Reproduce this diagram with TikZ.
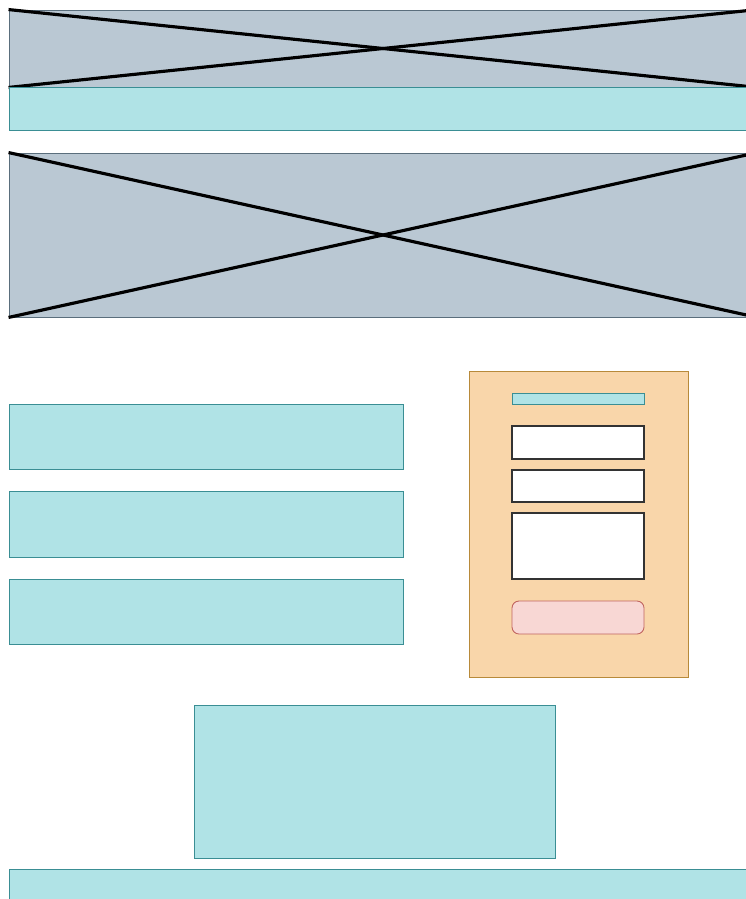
\documentclass[tikz,border=0pt]{standalone}
\usetikzlibrary{fit}
\definecolor{imgfill}{HTML}{BAC8D3}
\definecolor{imgline}{HTML}{5A6E7C}
\definecolor{tealfill}{HTML}{B0E3E6}
\definecolor{tealline}{HTML}{3A8E94}
\definecolor{formfill}{HTML}{F9D6AA}
\definecolor{formline}{HTML}{B88A3A}
\definecolor{btnfill}{HTML}{F8D7D4}
\definecolor{btnline}{HTML}{C0645E}
\tikzset{
  img/.style={draw=imgline, fill=imgfill, line width=0.5pt, inner sep=0pt},
  bar/.style={draw=tealline, fill=tealfill, line width=0.5pt, inner sep=0pt},
  panel/.style={draw=formline, fill=formfill, line width=0.5pt, inner sep=0pt},
  field/.style={draw=black!80, fill=white, line width=0.6pt, inner sep=0pt},
  btn/.style={draw=btnline, fill=btnfill, line width=0.5pt, rounded corners=4pt, inner sep=0pt},
  cross/.style={draw=black, line width=1.8pt},
}

\begin{document}
\begin{tikzpicture}[x=0.02cm, y=-0.02cm]
    \useasboundingbox (0,0) rectangle (745,899);
    % header image with nav bar
    \node[img, fit={(9,10) (757,87)}] (hero) {};
    \draw[cross] (hero.north west) -- (hero.south east);
    \draw[cross] (hero.south west) -- (hero.north east);
    \node[bar, fit={(9,87) (757,130)}] (nav) {};
    % banner
    \node[img, fit={(9,153) (757,317)}] (banner) {};
    \draw[cross] (banner.north west) -- (banner.south east);
    \draw[cross] (banner.south west) -- (banner.north east);
    % left column
    \node[bar, fit={(9,404) (403,469)}] (item1) {};
    \node[bar, fit={(9,491) (403,557)}] (item2) {};
    \node[bar, fit={(9,579) (403,644)}] (item3) {};
    % contact form
    \node[panel, fit={(469,371) (688,677)}] (form) {};
    \node[bar, fit={(512,393) (644,404)}] (title) {};
    \node[field, fit={(512,426) (644,459)}] (name) {};
    \node[field, fit={(512,470) (644,502)}] (mail) {};
    \node[field, fit={(512,513) (644,579)}] (msg) {};
    \node[btn, fit={(512,601) (644,634)}] (send) {};
    % content and footer
    \node[bar, fit={(194,705) (555,858)}] (content) {};
    \node[bar, fit={(9,869) (757,910)}] (footer) {};
\end{tikzpicture}
\end{document}
